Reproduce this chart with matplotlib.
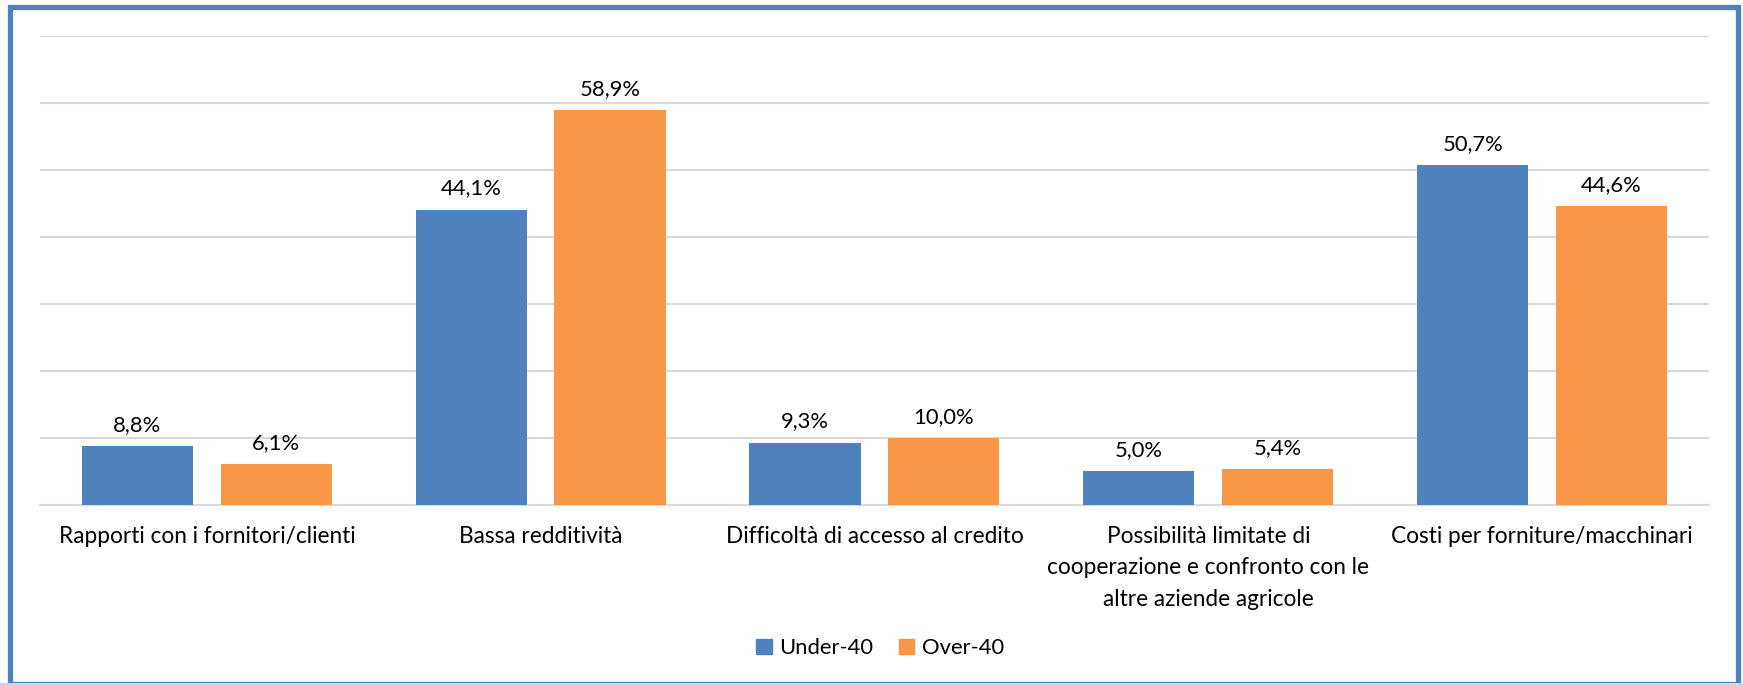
import numpy as np
import matplotlib
matplotlib.use("Agg")
import matplotlib.pyplot as plt
from matplotlib.patches import Rectangle, Patch

plt.rcParams['font.family'] = ['Lato', 'DejaVu Sans']

categories = ["Rapporti con i fornitori/clienti",
              "Bassa redditività",
              "Difficoltà di accesso al credito",
              "Possibilità limitate di\ncooperazione e confronto con le\naltre aziende agricole",
              "Costi per forniture/macchinari"]
under40 = [8.8, 44.1, 9.3, 5.0, 50.7]
over40 = [6.1, 58.9, 10.0, 5.4, 44.6]
series_names = ["Under-40", "Over-40"]

blue = "#4F81BD"
orange = "#F79646"

fig = plt.figure(figsize=(17.43, 6.85), dpi=100)
ax = fig.add_axes([0.0229, 0.2628, 0.9576, 0.6846])

x = np.arange(len(categories))
w = 0.333
off = 0.208
b1 = ax.bar(x - off, under40, w, color=blue, zorder=3)
b2 = ax.bar(x + off, over40, w, color=orange, zorder=3)

def fmt(v):
    return ("%.1f%%" % v).replace(".", ",")

for bars, vals in [(b1, under40), (b2, over40)]:
    for r, v in zip(bars, vals):
        ax.annotate(fmt(v), (r.get_x() + r.get_width() / 2, v),
                    xytext=(0, 8), textcoords="offset points",
                    ha="center", va="bottom", fontsize=15.8, color="#000000")

ax.set_xlim(-0.5, len(categories) - 0.5)
ax.set_ylim(0, 70)
ax.set_yticks(np.arange(0, 71, 10))
ax.yaxis.grid(True, color="#D9D9D9", linewidth=1.5, zorder=0)
ax.tick_params(axis="y", left=False, labelleft=False)
ax.tick_params(axis="x", length=0, pad=15)
ax.set_xticks(x)
ax.set_xticklabels(categories, fontsize=16.3, linespacing=1.62, va="top")
for s in ["top", "right", "left"]:
    ax.spines[s].set_visible(False)
ax.spines["bottom"].set_color("#D9D9D9")
ax.spines["bottom"].set_linewidth(1.5)

handles = [Patch(color=blue), Patch(color=orange)]
fig.legend(handles, series_names, loc="center", bbox_to_anchor=(0.505, 0.054),
           ncol=2, frameon=False, fontsize=15.8, handlelength=0.7, handleheight=0.7,
           handletextpad=0.35, columnspacing=1.15)

# frame round the chart
fig.patches.append(Rectangle((10 / 1743, 1 / 685), 1728 / 1743, 677 / 685,
                             transform=fig.transFigure, fill=False,
                             edgecolor=blue, linewidth=3.8))
fig.patches.append(Rectangle((0, 0), 1, 0.003, transform=fig.transFigure,
                             color="#C5D7EC", linewidth=0))

fig.savefig("out.png", dpi=100)
